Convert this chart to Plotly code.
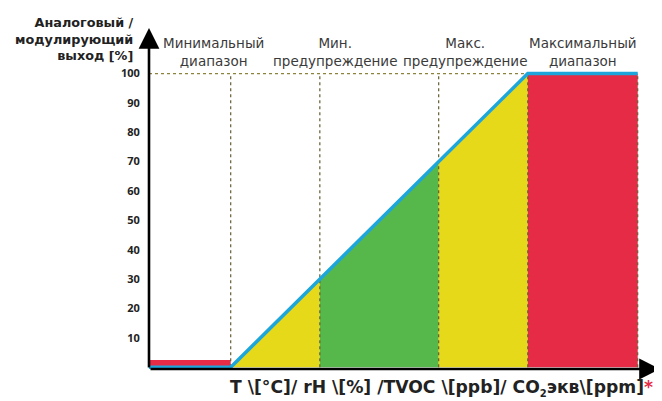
import plotly.graph_objects as go

# ---- data (x in "% of ramp" units) ----
zone_edges = [-27.5, 0, 30, 70, 100, 137]        # axis start, ramp start, min warn, max warn, ramp end, max range end
warn_output = [30, 70]                           # output [%] at min / max warning
line_x = [-27.5, 0, 100, 137]
line_y = [0, 0, 100, 100]
min_bar_top = 2.5
max_output = 100
y_ticks = [10, 20, 30, 40, 50, 60, 70, 80, 90, 100]
zone_labels = ["Минимальный<br>диапазон", "Мин.<br>предупреждение",
               "Макс.<br>предупреждение", "Максимальный<br>диапазон"]
label_x = [-5.7, 35.2, 78.9, 118.5]

YELLOW = "#E6D91A"
GREEN = "#56B84A"
RED = "#E52B45"
BLUE = "#1DA6DB"
DOT = "rgb(140,130,60)"

x0, xa, xw1, xw2, xb, xe = zone_edges
fig = go.Figure()

def poly(xs, ys, color):
    fig.add_trace(go.Scatter(x=xs, y=ys, fill="toself", fillcolor=color, mode="none",
                             hoverinfo="skip", showlegend=False))

# small red bar (minimum range)
poly([x0, xa, xa, x0], [0, 0, min_bar_top, min_bar_top], RED)
# yellow triangle
poly([xa, xw1, xw1], [0, warn_output[0], 0], YELLOW)
# green trapezoid
poly([xw1, xw1, xw2, xw2], [0, warn_output[0], warn_output[1], 0], GREEN)
# yellow trapezoid
poly([xw2, xw2, xb, xb], [0, warn_output[1], max_output, 0], YELLOW)
# red max range
poly([xb, xe, xe, xb], [0, 0, max_output, max_output], RED)

# dotted guide lines
fig.add_trace(go.Scatter(x=[x0, xb], y=[max_output, max_output], mode="lines",
                         line=dict(color=DOT, width=1.2, dash="dot"), hoverinfo="skip", showlegend=False))
for xv in [xa, xw1, xw2, xb, xe]:
    fig.add_trace(go.Scatter(x=[xv, xv], y=[0, max_output], mode="lines",
                             line=dict(color="rgb(100,95,50)", width=1.2, dash="dot"),
                             hoverinfo="skip", showlegend=False))

# blue output line
fig.add_trace(go.Scatter(x=line_x, y=line_y, mode="lines",
                         line=dict(color=BLUE, width=3.5), hoverinfo="skip", showlegend=False))

# axes arrows
fig.add_annotation(x=x0, y=115.5, ax=x0, ay=-0.6, xref="x", yref="y", axref="x", ayref="y",
                   showarrow=True, arrowhead=2, arrowsize=1.6, arrowwidth=2.6, arrowcolor="black", text="")
fig.add_annotation(x=144.5, y=-0.6, ax=x0, ay=-0.6, xref="x", yref="y", axref="x", ayref="y",
                   showarrow=True, arrowhead=2, arrowsize=1.6, arrowwidth=2.6, arrowcolor="black", text="")

# zone labels
for t, xv in zip(zone_labels, label_x):
    fig.add_annotation(x=xv, y=100.9, xref="x", yref="y", text=t, showarrow=False,
                       xanchor="center", yanchor="bottom",
                       font=dict(family="DejaVu Sans", size=13.5, color="#3a3a3a"))

# y-axis title
fig.add_annotation(x=x0, y=102.8, xref="x", yref="y", xanchor="right", yanchor="bottom", xshift=-13,
                   align="right", showarrow=False,
                   text="<b>Аналоговый /<br>модулирующий<br>выход [%]</b>",
                   font=dict(family="DejaVu Sans", size=12.8, color="#222"))

# x-axis title
fig.add_annotation(x=1, y=0, xref="paper", yref="paper", xanchor="right", yanchor="top",
                   xshift=-5, yshift=-6, showarrow=False,
                   text="<b>T \\[°C]/ rH \\[%] /TVOC \\[ppb]/ CO<sub><span style='font-size:10px'>2</span></sub>экв\\[ppm]</b>"
                        "<b><span style='color:#E52B45'>*</span></b>",
                   font=dict(family="DejaVu Sans", size=17.2, color="#222"))

# page body has an 8px margin: shrink the figure so it ends at the window edge
fig.update_layout(
    width=654, height=393,
    margin=dict(l=141, r=2, t=20, b=32),
    plot_bgcolor="white", paper_bgcolor="white",
    xaxis=dict(range=[-27.5, 144.5], showgrid=False, zeroline=False, showticklabels=False,
               showline=False, fixedrange=True),
    yaxis=dict(range=[-0.6, 115.5], showgrid=False, zeroline=False, tickvals=y_ticks,
               ticks="outside", ticklen=6, tickcolor="rgba(0,0,0,0)",
               tickfont=dict(family="Open Sans", size=11, color="#222", weight="bold"),
               showline=False, fixedrange=True),
)

fig.write_html("out.html")
